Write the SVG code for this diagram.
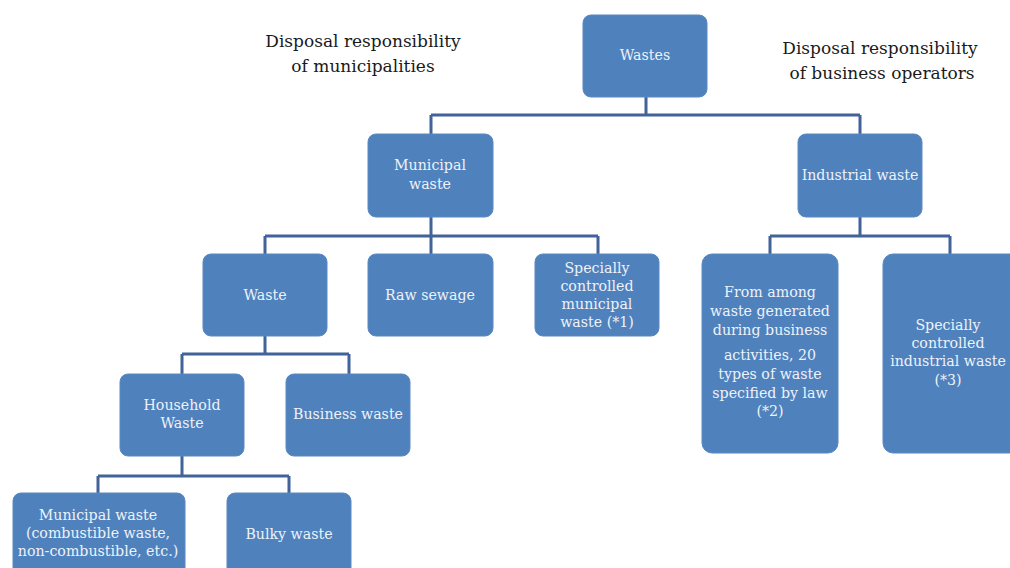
<svg xmlns="http://www.w3.org/2000/svg" width="1010" height="568" viewBox="0 0 1010 568">
<style>
.n{fill:#4f81bd;stroke:#5a89c2;stroke-width:1}
.t{font-family:"DejaVu Serif","Liberation Serif",serif;font-size:14.2px;fill:#eef2f8;text-anchor:middle}
.h{font-family:"DejaVu Serif","Liberation Serif",serif;font-size:17px;fill:#1a1a1a;text-anchor:middle}
.c{fill:none;stroke:#41639a;stroke-width:3}
</style>
<rect width="1010" height="568" fill="#ffffff"/>
<g id="headings">
<text class="h" x="363" y="47">Disposal responsibility</text>
<text class="h" x="363" y="72">of municipalities</text>
<text class="h" x="880" y="54">Disposal responsibility</text>
<text class="h" x="882" y="79">of business operators</text>
</g>
<g id="connectors">
<path class="c" d="M646 97V115M431 115H860M431 115V134M860 115V134"/>
<path class="c" d="M431 217V236M265 236H598M265 236V254M431 236V254M598 236V254"/>
<path class="c" d="M860 217V236M770 236H950M770 236V254M950 236V254"/>
<path class="c" d="M265 336V354M182 354H349M182 354V374M349 354V374"/>
<path class="c" d="M182 456V476M98 476H289M98 476V493M289 476V493"/>
</g>
<g id="wastes"><rect class="n" x="583" y="15" width="124" height="82" rx="8"/><text class="t" x="645" y="60">Wastes</text></g>
<g id="municipal"><rect class="n" x="368" y="134" width="125" height="83" rx="8"/><text class="t" x="430" y="170">Municipal</text><text class="t" x="430" y="189">waste</text></g>
<g id="industrial"><rect class="n" x="798" y="134" width="124" height="83" rx="8"/><text class="t" x="860" y="180">Industrial waste</text></g>
<g id="waste"><rect class="n" x="203" y="254" width="124" height="82" rx="8"/><text class="t" x="265" y="300">Waste</text></g>
<g id="sewage"><rect class="n" x="368" y="254" width="125" height="82" rx="8"/><text class="t" x="430" y="300">Raw sewage</text></g>
<g id="specmun"><rect class="n" x="535" y="254" width="124" height="82" rx="8"/><text class="t" x="597" y="273">Specially</text><text class="t" x="597" y="291">controlled</text><text class="t" x="597" y="309">municipal</text><text class="t" x="597" y="327">waste (*1)</text></g>
<g id="fromamong"><rect class="n" x="702" y="254" width="136" height="199" rx="10"/><text class="t" x="770" y="297">From among</text><text class="t" x="770" y="316">waste generated</text><text class="t" x="770" y="335">during business</text><text class="t" x="770" y="360">activities, 20</text><text class="t" x="770" y="379">types of waste</text><text class="t" x="770" y="398">specified by law</text><text class="t" x="770" y="416">(*2)</text></g>
<g id="specind"><rect class="n" x="883" y="254" width="140" height="199" rx="10"/><text class="t" x="948" y="330">Specially</text><text class="t" x="948" y="348">controlled</text><text class="t" x="948" y="366">industrial waste</text><text class="t" x="948" y="385">(*3)</text></g>
<g id="household"><rect class="n" x="120" y="374" width="124" height="82" rx="8"/><text class="t" x="182" y="410">Household</text><text class="t" x="182" y="428">Waste</text></g>
<g id="business"><rect class="n" x="286" y="374" width="124" height="82" rx="8"/><text class="t" x="348" y="419">Business waste</text></g>
<g id="munwaste"><rect class="n" x="13" y="493" width="172" height="90" rx="8"/><text class="t" x="98" y="520">Municipal waste</text><text class="t" x="98" y="538">(combustible waste,</text><text class="t" x="98" y="556">non-combustible, etc.)</text></g>
<g id="bulky"><rect class="n" x="227" y="493" width="124" height="90" rx="8"/><text class="t" x="289" y="539">Bulky waste</text></g>
</svg>
